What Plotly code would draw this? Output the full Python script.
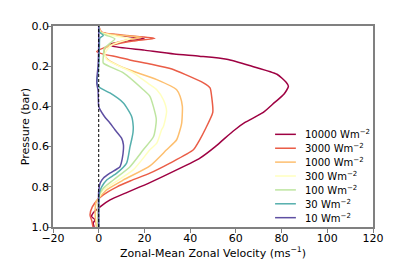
import plotly.graph_objects as go

# Series labels (stellar flux) and colours
labels = ["10000 Wm<sup>−2</sup>", "3000 Wm<sup>−2</sup>", "1000 Wm<sup>−2</sup>",
          "300 Wm<sup>−2</sup>", "100 Wm<sup>−2</sup>", "30 Wm<sup>−2</sup>", "10 Wm<sup>−2</sup>"]
colors = ["#9e0142", "#ea5d47", "#fdbf6f", "#ffffbf", "#bee5a0", "#55afad", "#5e4fa2"]

# Pressure (bar) and zonal-mean zonal velocity (m/s) for each series
p_10000 = [0.0, 0.03, 0.045, 0.064, 0.075, 0.09, 0.10, 0.12, 0.139, 0.15, 0.165, 0.20, 0.24, 0.28, 0.30,
           0.34, 0.38, 0.43, 0.48, 0.516, 0.56, 0.60, 0.657, 0.716, 0.779, 0.83, 0.865, 0.90, 0.93, 0.948,
           0.965, 0.98, 1.0]
u_10000 = [0.0, 0.5, 8, 20, 12, 5, 6, 20, 33, 44, 56, 67, 78, 82, 83,
           81, 77, 72, 64, 59.6, 55, 51, 44.3, 34.1, 22.4, 12, 5, 0.6, -2.4, -3.1,
           -1.6, -2.4, -2.0]

p_3000 = [0.0, 0.03, 0.045, 0.061, 0.075, 0.09, 0.11, 0.127, 0.14, 0.155, 0.17, 0.19, 0.214, 0.242, 0.283,
          0.308, 0.35, 0.43, 0.516, 0.57, 0.616, 0.682, 0.732, 0.77, 0.80, 0.84, 0.865, 0.90, 0.94, 0.97, 1.0]
u_3000 = [0.0, 1.3, 10, 24.6, 15, 8, 2, -0.9, 2, 8.6, 14, 23, 32, 38, 45.8,
          48.7, 49.4, 49.9, 46.5, 44, 41.4, 31.2, 22.4, 14, 8, 2, -0.5, -2.8, -3.8, -3, -2.5]

p_1000 = [0.0, 0.03, 0.045, 0.056, 0.07, 0.09, 0.114, 0.14, 0.167, 0.208, 0.267, 0.317, 0.35, 0.40,
          0.483, 0.516, 0.566, 0.616, 0.696, 0.766, 0.815, 0.849, 0.87, 0.90, 0.95, 1.0]
u_1000 = [0.0, 1.0, 8, 18.8, 12, 6, 2.7, 2.5, 4, 10.8, 25.4, 34.1, 35.6, 36.6,
          36.3, 35.6, 34.1, 29.7, 22.4, 10.8, 3.5, 0.6, -1, -1.5, -1.5, -1.0]

p_300 = [0.0, 0.03, 0.045, 0.064, 0.08, 0.10, 0.139, 0.167, 0.233, 0.292, 0.317, 0.367, 0.425, 0.5,
         0.516, 0.583, 0.616, 0.716, 0.782, 0.815, 0.85, 0.9, 1.0]
u_300 = [0.0, 0.8, 5, 13.7, 9, 5, 2.7, 3.5, 15.1, 22.4, 25.4, 28.3, 29.7, 28.3,
         27.5, 25.4, 22.4, 15.1, 6.4, 2.0, 0.3, -0.5, -0.5]

p_100 = [0.0, 0.03, 0.045, 0.064, 0.085, 0.11, 0.155, 0.184, 0.233, 0.317, 0.35, 0.40, 0.466, 0.55,
         0.616, 0.70, 0.766, 0.807, 0.84, 1.0]
u_100 = [0.0, 0.5, 3, 7.1, 5, 2.5, 2, 2, 10.8, 19.5, 22.4, 23.9, 25.2, 24,
         19.5, 13.7, 6.4, 2.0, 0.3, -0.3]

p_30 = [0.0, 0.03, 0.047, 0.06, 0.10, 0.20, 0.25, 0.283, 0.30, 0.308, 0.333, 0.383, 0.45, 0.5, 0.53,
        0.566, 0.60, 0.682, 0.732, 0.766, 0.80, 0.83, 1.0]
u_30 = [0.0, 0.3, 2, 0.5, 0.3, 0.0, -0.5, -0.8, 0.0, 0.6, 4.9, 10.8, 14.4, 15.1, 15.0,
        14.4, 13.7, 12.2, 7.9, 3.5, 1.3, 0.3, 0.0]

p_10 = [0.0, 0.10, 0.20, 0.26, 0.29, 0.32, 0.40, 0.416, 0.45, 0.483, 0.516, 0.558, 0.59, 0.616,
        0.66, 0.70, 0.732, 0.757, 0.782, 0.82, 1.0]
u_10 = [0.0, 0.0, -0.3, -0.8, -0.8, -0.3, 0.0, 0.6, 2.5, 4.9, 7.1, 10.0, 10.8, 10.8,
        10.3, 9.3, 4.9, 2.0, 0.6, 0.0, 0.0]

pressures = [p_10000, p_3000, p_1000, p_300, p_100, p_30, p_10]
velocities = [u_10000, u_3000, u_1000, u_300, u_100, u_30, u_10]

x_ticks = [-20, 0, 20, 40, 60, 80, 100, 120]
y_ticks = [0.0, 0.2, 0.4, 0.6, 0.8, 1.0]

FONT = "DejaVu Sans"
AX = "#808080"
PAGE_OFFSET = 8   # default body margin of the html page
EXTRA_B = 16      # spare room below the visible window so automargin never pushes

fig = go.Figure()
for lab, col, pp, uu in zip(labels, colors, pressures, velocities):
    fig.add_trace(go.Scatter(x=uu, y=pp, mode="lines", name=lab,
                             line=dict(color=col, width=1.5, shape="spline", smoothing=0.6),
                             showlegend=False))

fig.add_vline(x=0, line=dict(color="black", width=1, dash="3px,2px"))

# Manual compact legend (matplotlib-style spacing)
leg_x0, leg_x1, leg_tx = 0.694, 0.759, 0.781
leg_top, leg_step = 0.461, 0.0691
for i, (lab, col) in enumerate(zip(labels, colors)):
    yy = leg_top - i * leg_step
    fig.add_shape(type="line", xref="paper", yref="paper", x0=leg_x0, x1=leg_x1, y0=yy, y1=yy,
                  line=dict(color=col, width=1.5))
    fig.add_annotation(xref="paper", yref="paper", x=leg_tx, y=yy, text=lab, showarrow=False,
                       xanchor="left", yanchor="middle", font=dict(family=FONT, size=10, color="black"))

fig.update_xaxes(range=[-20, 120], tickvals=x_ticks, ticks="outside", ticklen=4, tickwidth=1,
                 tickcolor=AX, showline=True, linecolor=AX, linewidth=1.5, mirror=True,
                 showgrid=False, zeroline=False, ticklabelstandoff=-4,
                 title=dict(text="Zonal-Mean Zonal Velocity (ms<sup>−1</sup>)", standoff=4,
                            font=dict(family=FONT, size=11, color="black")),
                 tickfont=dict(family=FONT, size=11, color="black"))
fig.update_yaxes(range=[1, 0], tickvals=y_ticks, ticktext=[f"{v:.1f}" for v in y_ticks],
                 ticks="outside", ticklen=4, tickwidth=1,
                 tickcolor=AX, showline=True, linecolor=AX, linewidth=1.5, mirror=True,
                 showgrid=False, zeroline=False, ticklabelstandoff=-4,
                 title=dict(text="Pressure (bar)", standoff=0,
                            font=dict(family=FONT, size=11, color="black")),
                 tickfont=dict(family=FONT, size=11, color="black"))

fig.update_layout(width=415 - PAGE_OFFSET, height=267 - PAGE_OFFSET + EXTRA_B,
                  margin=dict(l=53 - PAGE_OFFSET, r=42, t=26 - PAGE_OFFSET, b=40 + EXTRA_B),
                  paper_bgcolor="white", plot_bgcolor="white",
                  font=dict(family=FONT, size=11, color="black"))

fig.write_html("out.html")
